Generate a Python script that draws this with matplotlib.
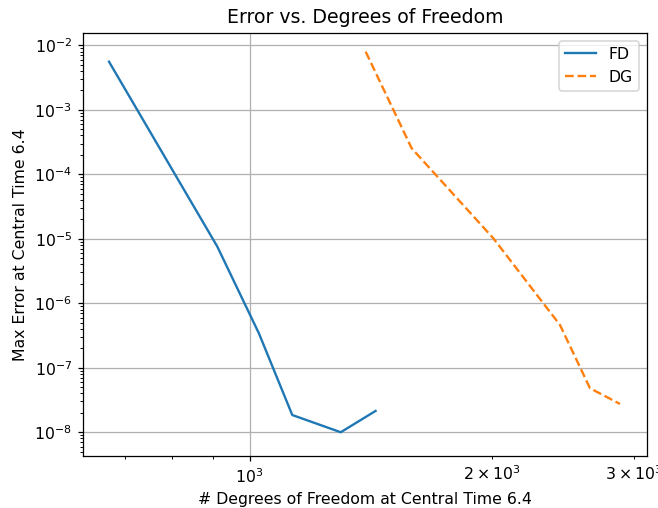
import matplotlib
matplotlib.use("Agg")
import matplotlib.pyplot as plt

# finite difference convergence: dofs vs. max error
fd_dofs = [669, 912, 1027, 1130, 1298, 1434]
fd_err = [5.57e-3, 7.55e-6, 3.43e-7, 1.85e-8, 1.0e-8, 2.14e-8]

# discontinuous Galerkin convergence
dg_dofs = [1394, 1590, 2008, 2430, 2648, 2885]
dg_err = [7.96e-3, 2.53e-4, 1.02e-5, 4.61e-7, 4.81e-8, 2.75e-8]

dpi = 113
fig = plt.figure(figsize=(658 / dpi, 508 / dpi), dpi=dpi)
ax = fig.add_axes([0.1261, 0.1026, 0.8572, 0.8330])

ax.loglog(fd_dofs, fd_err, "-", label="FD")
ax.loglog(dg_dofs, dg_err, "--", label="DG")

ax.set_xlim(621, 3117)
ax.set_ylim(4.3e-9, 1.567e-2)

ax.set_title("Error vs. Degrees of Freedom")
ax.set_xlabel("# Degrees of Freedom at Central Time 6.4")
ax.set_ylabel("Max Error at Central Time 6.4")
ax.grid(True)
ax.legend(loc="upper right")

fig.savefig("out.png", dpi=dpi)
